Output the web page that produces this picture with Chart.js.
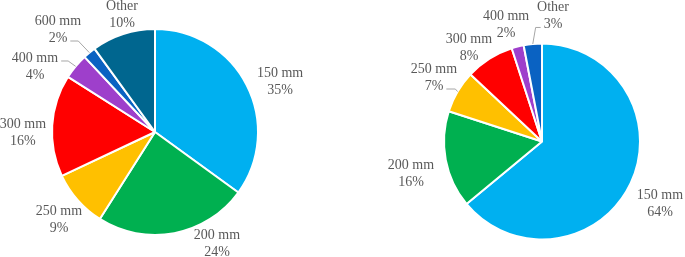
<!DOCTYPE html>
<html>
<head>
<meta charset="utf-8">
<script src="https://cdn.jsdelivr.net/npm/chart.js@4.4.0/dist/chart.umd.min.js"></script>
<style>
  html, body { margin: 0; padding: 0; background: #fff; }
  #wrap { position: relative; width: 685px; height: 257px; overflow: hidden; }
  .box { position: absolute; top: 0; height: 257px; }
</style>
</head>
<body>
<div id="wrap">
  <div class="box" style="left:0;width:340px"><canvas id="leftPie"></canvas></div>
  <div class="box" style="left:340px;width:345px"><canvas id="rightPie"></canvas></div>
</div>
<script>
// left pie data
const leftLabels = ["150 mm", "200 mm", "250 mm", "300 mm", "400 mm", "600 mm", "Other"];
const leftValues = [35, 24, 9, 16, 4, 2, 10];
const leftColors = ["#00B0F0", "#00B050", "#FFC000", "#FF0000", "#9E3FCB", "#0A62C2", "#00668F"];

// right pie data
const rightLabels = ["150 mm", "200 mm", "250 mm", "300 mm", "400 mm", "Other"];
const rightValues = [64, 16, 7, 8, 2, 3];
const rightColors = ["#00B0F0", "#00B050", "#FFC000", "#FF0000", "#9E3FCB", "#0A62C2"];

// label placement, offsets from pie centre in units of radius
const leftLayout = [
  { dx: 1.214, dy: -0.485 },
  { dx: 0.602, dy: 1.083 },
  { dx: -0.932, dy: 0.850 },
  { dx: -1.282, dy: 0.01 },
  { dx: -1.165, dy: -0.636, leader: { line: 0, side: "right", len: 7 } },
  { dx: -0.942, dy: -0.995, leader: { line: 1, side: "right", len: 8 } },
  { dx: -0.320, dy: -1.141 },
];
const rightLayout = [
  { dx: 1.204, dy: 0.633 },
  { dx: -1.337, dy: 0.327 },
  { dx: -1.102, dy: -0.653, leader: { line: 1, side: "right", len: 9 } },
  { dx: -0.745, dy: -0.959 },
  { dx: -0.367, dy: -1.189 },
  { dx: 0.112, dy: -1.281, leader: { line: 1, side: "left", len: 5 } },
];

const labelFont = "14px 'Liberation Serif', 'Times New Roman', serif";
const lineGap = 17;

// draws the category + percent labels and the grey leader lines
const pieLabels = {
  id: "pieLabels",
  afterDatasetsDraw(chart, args, opts) {
    const ctx = chart.ctx;
    const meta = chart.getDatasetMeta(0);
    const values = chart.data.datasets[0].data;
    const total = values.reduce((a, b) => a + b, 0);
    ctx.save();
    ctx.font = labelFont;
    ctx.fillStyle = "#595959";
    ctx.textAlign = "center";
    ctx.textBaseline = "middle";
    meta.data.forEach((arc, i) => {
      const lay = opts.layout[i];
      const r = arc.outerRadius;
      const cx = arc.x + lay.dx * r;
      const cy = arc.y + lay.dy * r;
      const lines = [chart.data.labels[i], Math.round(values[i] / total * 100) + "%"];
      lines.forEach((t, k) => {
        ctx.fillText(t, cx, cy + (k - 0.5) * lineGap);
      });
      if (lay.leader) {
        const ld = lay.leader;
        const w = ctx.measureText(lines[ld.line]).width;
        const ly = cy + (ld.line - 0.5) * lineGap + 3;
        const dir = ld.side === "right" ? 1 : -1;
        const sx = cx + dir * (w / 2 + 3);
        const mid = (arc.startAngle + arc.endAngle) / 2;
        const ex = arc.x + r * Math.cos(mid);
        const ey = arc.y + r * Math.sin(mid);
        const bx = ld.side === "right" ? Math.min(sx + ld.len, ex) : Math.max(sx - ld.len, ex);
        ctx.strokeStyle = "#A6A6A6";
        ctx.lineWidth = 1;
        ctx.beginPath();
        ctx.moveTo(sx, ly);
        ctx.lineTo(bx, ly);
        ctx.lineTo(ex, ey);
        ctx.stroke();
      }
    });
    ctx.restore();
  },
};

function makePie(id, labels, values, colors, layout, padding) {
  new Chart(document.getElementById(id), {
    type: "pie",
    data: {
      labels: labels,
      datasets: [
        {
          data: values,
          backgroundColor: colors,
          borderColor: "#FFFFFF",
          borderWidth: 2,
        },
      ],
    },
    options: {
      responsive: true,
      maintainAspectRatio: false,
      animation: false,
      layout: { padding: padding },
      plugins: {
        legend: { display: false },
        tooltip: { enabled: false },
        pieLabels: { layout: layout },
      },
    },
    plugins: [pieLabels],
  });
}

makePie("leftPie", leftLabels, leftValues, leftColors, leftLayout,
  { left: 51, right: 81, top: 28, bottom: 21 });
makePie("rightPie", rightLabels, rightValues, rightColors, rightLayout,
  { left: 103, right: 44, top: 42.5, bottom: 16.5 });
</script>
</body>
</html>
